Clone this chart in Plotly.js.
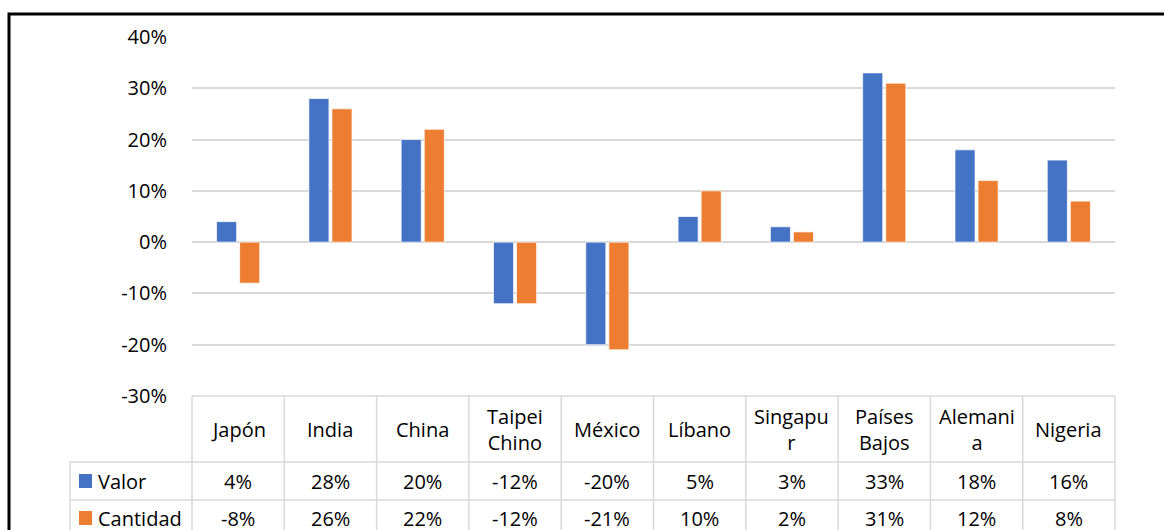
<!DOCTYPE html>
<html>
<head>
<meta charset="utf-8">
<script src="https://cdn.plot.ly/plotly-3.0.1.min.js"></script>
<style>html,body{margin:0;padding:0;background:#fff;}#chart{width:1164px;height:530px;}</style>
</head>
<body>
<div id="chart"></div>
<script>
var categories = ["Japón", "India", "China", "Taipei Chino", "México", "Líbano", "Singapur", "Países Bajos", "Alemania", "Nigeria"];
var headerLabels = ["Japón", "India", "China", "Taipei<br>Chino", "México", "Líbano", "Singapu<br>r", "Países<br>Bajos", "Alemani<br>a", "Nigeria"];
var valor = [0.04, 0.28, 0.20, -0.12, -0.20, 0.05, 0.03, 0.33, 0.18, 0.16];
var cantidad = [-0.08, 0.26, 0.22, -0.12, -0.21, 0.10, 0.02, 0.31, 0.12, 0.08];
var seriesNames = ["Valor", "Cantidad"];
var yTicks = [-0.3, -0.2, -0.1, 0, 0.1, 0.2, 0.3, 0.4];
var yTickText = ["-30%", "-20%", "-10%", "0%", "10%", "20%", "30%", "40%"];

var colors = ["#4472C4", "#ED7D31"];
var FONT = "'Open Sans', 'Noto Sans', sans-serif";
var W = 1164, H = 530;
var mL = 192, mR = 49, mT = 37, mB = 134;
var plotW = W - mL - mR, plotH = H - mT - mB;
function px2paperX(px) { return (px - mL) / plotW; }
function px2paperY(py) { return (H - mB - py) / plotH; }

var idx = categories.map(function (c, i) { return i; });

var traces = [valor, cantidad].map(function (vals, s) {
  return {
    type: "bar",
    name: seriesNames[s],
    x: idx,
    y: vals,
    marker: { color: colors[s], line: { color: "rgba(255,255,255,0.7)", width: 1 } },
    hoverinfo: "skip"
  };
});

var shapes = [];
var annotations = [];
var gridC = "#d9d9d9";
var n = categories.length;

// table lines
var yTop = px2paperY(396), yRow1 = px2paperY(462), yRow2 = px2paperY(500), yBot = px2paperY(545);
var xLegL = px2paperX(70);
for (var i = 0; i <= n; i++) {
  shapes.push({ type: "line", xref: "paper", yref: "paper", x0: i / n, x1: i / n, y0: yTop, y1: yBot,
    line: { color: gridC, width: 1.5 } });
}
shapes.push({ type: "line", xref: "paper", yref: "paper", x0: 0, x1: 1, y0: yTop, y1: yTop, line: { color: gridC, width: 1.5 } });
shapes.push({ type: "line", xref: "paper", yref: "paper", x0: xLegL, x1: 1, y0: yRow1, y1: yRow1, line: { color: gridC, width: 1.5 } });
shapes.push({ type: "line", xref: "paper", yref: "paper", x0: xLegL, x1: 1, y0: yRow2, y1: yRow2, line: { color: gridC, width: 1.5 } });
shapes.push({ type: "line", xref: "paper", yref: "paper", x0: xLegL, x1: xLegL, y0: yRow1, y1: yBot, line: { color: gridC, width: 1.5 } });

// outer frame
shapes.push({ type: "rect", xref: "paper", yref: "paper", x0: px2paperX(9), x1: px2paperX(1200), y0: px2paperY(14), y1: px2paperY(600),
  line: { color: "#000", width: 3 }, fillcolor: "rgba(0,0,0,0)" });

// header labels
var txtFont = { family: FONT, size: 20, color: "#000" };
for (var j = 0; j < n; j++) {
  annotations.push({ xref: "paper", yref: "paper", x: (j + 0.5) / n, y: px2paperY(429), text: headerLabels[j],
    showarrow: false, font: txtFont, xanchor: "center", yanchor: "middle" });
}
// value rows
var rowY = [px2paperY(481), px2paperY(518)];
[valor, cantidad].forEach(function (vals, s) {
  vals.forEach(function (v, j) {
    annotations.push({ xref: "paper", yref: "paper", x: (j + 0.5) / n, y: rowY[s], text: Math.round(v * 100) + "%",
      showarrow: false, font: txtFont, xanchor: "center", yanchor: "middle" });
  });
  // legend key
  shapes.push({ type: "rect", xref: "paper", yref: "paper", x0: px2paperX(79), x1: px2paperX(92),
    y0: rowY[s] - 7 / plotH, y1: rowY[s] + 7 / plotH, fillcolor: colors[s], line: { width: 0 } });
  annotations.push({ xref: "paper", yref: "paper", x: px2paperX(96), y: rowY[s], text: seriesNames[s],
    showarrow: false, font: txtFont, xanchor: "left", yanchor: "middle" });
});

var layout = {
  width: W, height: H,
  margin: { l: mL, r: mR, t: mT, b: mB, pad: 0 },
  paper_bgcolor: "#fff", plot_bgcolor: "#fff",
  showlegend: false,
  barmode: "group",
  bargap: 0.5,
  bargroupgap: 0.13,
  xaxis: { range: [-0.5, n - 0.5], showticklabels: false, showgrid: false, zeroline: false, ticks: "", fixedrange: true },
  yaxis: { range: [-0.3, 0.4], tickvals: yTicks, ticktext: yTickText, showgrid: true, gridcolor: gridC, gridwidth: 2,
    zeroline: true, zerolinecolor: gridC, zerolinewidth: 2, ticks: "outside", ticklen: 20, tickcolor: "rgba(0,0,0,0)",
    tickfont: { family: FONT, size: 20, color: "#000" }, showline: false, fixedrange: true },
  shapes: shapes,
  annotations: annotations
};

Plotly.newPlot("chart", traces, layout, { displayModeBar: false, staticPlot: true });
</script>
</body>
</html>
